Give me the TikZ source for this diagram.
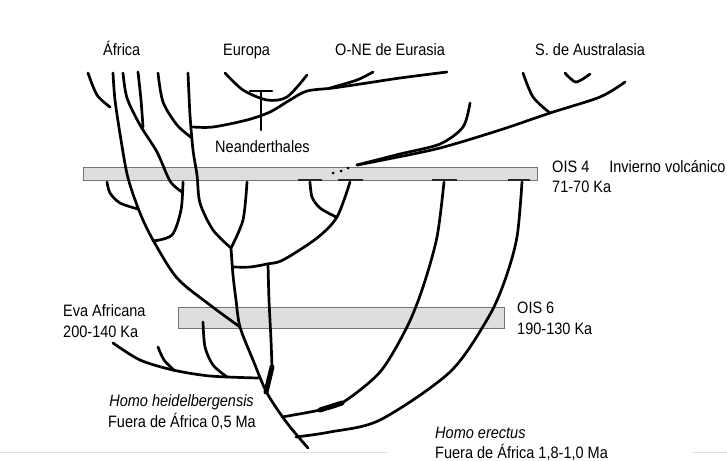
\documentclass[tikz,border=0pt]{standalone}
\usepackage{fontspec}
\setmainfont{Liberation Sans}[FakeStretch=0.88]
\begin{document}
\begin{tikzpicture}[x=1pt,y=-1pt,
  br/.style={line width=2.7pt,line cap=round,line join=round},
  thick/.style={line width=5pt,line cap=round},
  tick/.style={line width=2.4pt,black!85},
  bar/.style={fill=black!13,draw=black!55,line width=0.9pt},
  lab/.style={inner sep=0pt,anchor=base west,font=\fontsize{16.5}{19}\selectfont},
  labr/.style={inner sep=0pt,anchor=base east,font=\fontsize{16.5}{19}\selectfont}]
\useasboundingbox (0,0) rectangle (727,460);
% bottom rule
\draw[black!12,line width=1pt] (0,452) -- (387,452) (693,452) -- (727,452);
% bars
\draw[bar] (83,167) rectangle (537,180);
\draw[bar] (178,307) rectangle (504,328);
% ticks at bar bottom
\draw[tick] (298,180) -- (322,180) (338,180) -- (363,180) (432,180) -- (457,180) (508,180) -- (530,180);
% top-left branches
\draw[br] plot[smooth] coordinates {(88,73) (97,95) (110,107)};
\draw[br] plot[smooth] coordinates {(113,73) (115,100) (121,140) (128,178) (140,213) (153,240) (177,278) (210,305) (240,327)};
\draw[br] plot[smooth] coordinates {(123,73) (127,98) (140,125) (157,152) (170,181) (182,192)};
\draw[br] plot[smooth] coordinates {(138,72) (141,100) (143,127)};
\draw[br] plot[smooth] coordinates {(158,73) (163,102) (177,125) (192,138)};
\draw[br] plot[smooth] coordinates {(188,73) (190,115) (193,150) (197,175) (200,203) (213,230) (231,248)};
\draw[br] plot[smooth] coordinates {(107,182) (110,193) (120,203) (138,209)};
\draw[br] plot[smooth] coordinates {(183,182) (181,210) (172,235) (153,241)};
% Europa arc and T
\draw[br] plot[smooth] coordinates {(225,73) (243,90) (267,100) (287,97) (307,75)};
\draw[br] (250,91) -- (272,91) (261,91) -- (261,130);
% Neanderthal / O-NE branch
\draw[br] plot[smooth] coordinates {(193,127) (213,127) (247,120) (270,112) (290,100) (307,91) (333,88) (367,83) (400,78) (447,72)};
\draw[br] plot[smooth] coordinates {(330,88) (357,80) (373,72)};
% right branches above OIS 4
\draw[br] plot[smooth] coordinates {(357,165) (400,154) (440,144) (463,127) (470,103)};
\draw[br] plot[smooth] coordinates {(357,165) (383,160) (440,148) (500,130) (550,113) (600,97) (625,82)};
\draw[br] plot[smooth] coordinates {(523,73) (533,97) (550,113)};
\draw[br] plot[smooth] coordinates {(565,73) (576,82) (590,74)};
\fill (333,173) circle (1.5pt) (341,171) circle (1.5pt) (348,168) circle (1.5pt);
% central structure
\draw[br] plot[smooth] coordinates {(247,182) (243,220) (231,248)};
\draw[br] plot[smooth] coordinates {(231,248) (233,275) (236,300) (240,327) (253,360) (267,393) (287,423) (308,448)};
\draw[br] plot[smooth] coordinates {(233,267) (250,267) (267,264) (283,260) (317,238) (337,217) (350,182)};
\draw[br] plot[smooth] coordinates {(310,182) (312,197) (320,208) (336,217)};
\draw[br] plot[smooth] coordinates {(268,264) (269,300) (271,340) (272,368)};
\draw[thick] (272,367) -- (266,392);
% Eva lower branches
\draw[br] plot[smooth] coordinates {(113,343) (140,360) (173,370) (210,376) (258,378)};
\draw[br] plot[smooth] coordinates {(158,347) (164,360) (175,371)};
\draw[br] plot[smooth] coordinates {(203,322) (205,347) (213,365) (227,377)};
% erectus curves
\draw[br] plot[smooth] coordinates {(282,417) (320,410) (342,403) (380,372) (407,327) (423,287) (437,237) (444,182)};
\draw[thick] (320,410) -- (342,403);
\draw[br] plot[smooth] coordinates {(296,437) (330,432) (380,420) (450,372) (488,318) (505,280) (517,237) (522,182)};
% labels
\node[lab] (af) at (103,56) {África};
\node[lab] (eu) at (223,56) {Europa};
\node[lab] (ne) at (335,56) {O-NE de Eurasia};
\node[lab] (au) at (535,56) {S. de Australasia};
\node[lab] (nd) at (215,152) {Neanderthales};
\node[lab] (o4) at (552,172) {OIS 4\hspace{20pt}Invierno volcánico};
\node[lab] (o4b) at (552,192) {71-70 Ka};
\node[lab] (ev) at (63,316) {Eva Africana};
\node[lab] (evb) at (63,337) {200-140 Ka};
\node[lab] (o6) at (517,313) {OIS 6};
\node[lab] (o6b) at (517,334) {190-130 Ka};
\node[labr] (hh) at (254,406) {\itshape Homo heidelbergensis};
\node[labr] (hhb) at (256,427) {Fuera de África 0,5 Ma};
\node[lab] (he) at (435,438) {\itshape Homo erectus};
\node[lab] (heb) at (435,458) {Fuera de África 1,8-1,0 Ma};
\end{tikzpicture}
\end{document}
